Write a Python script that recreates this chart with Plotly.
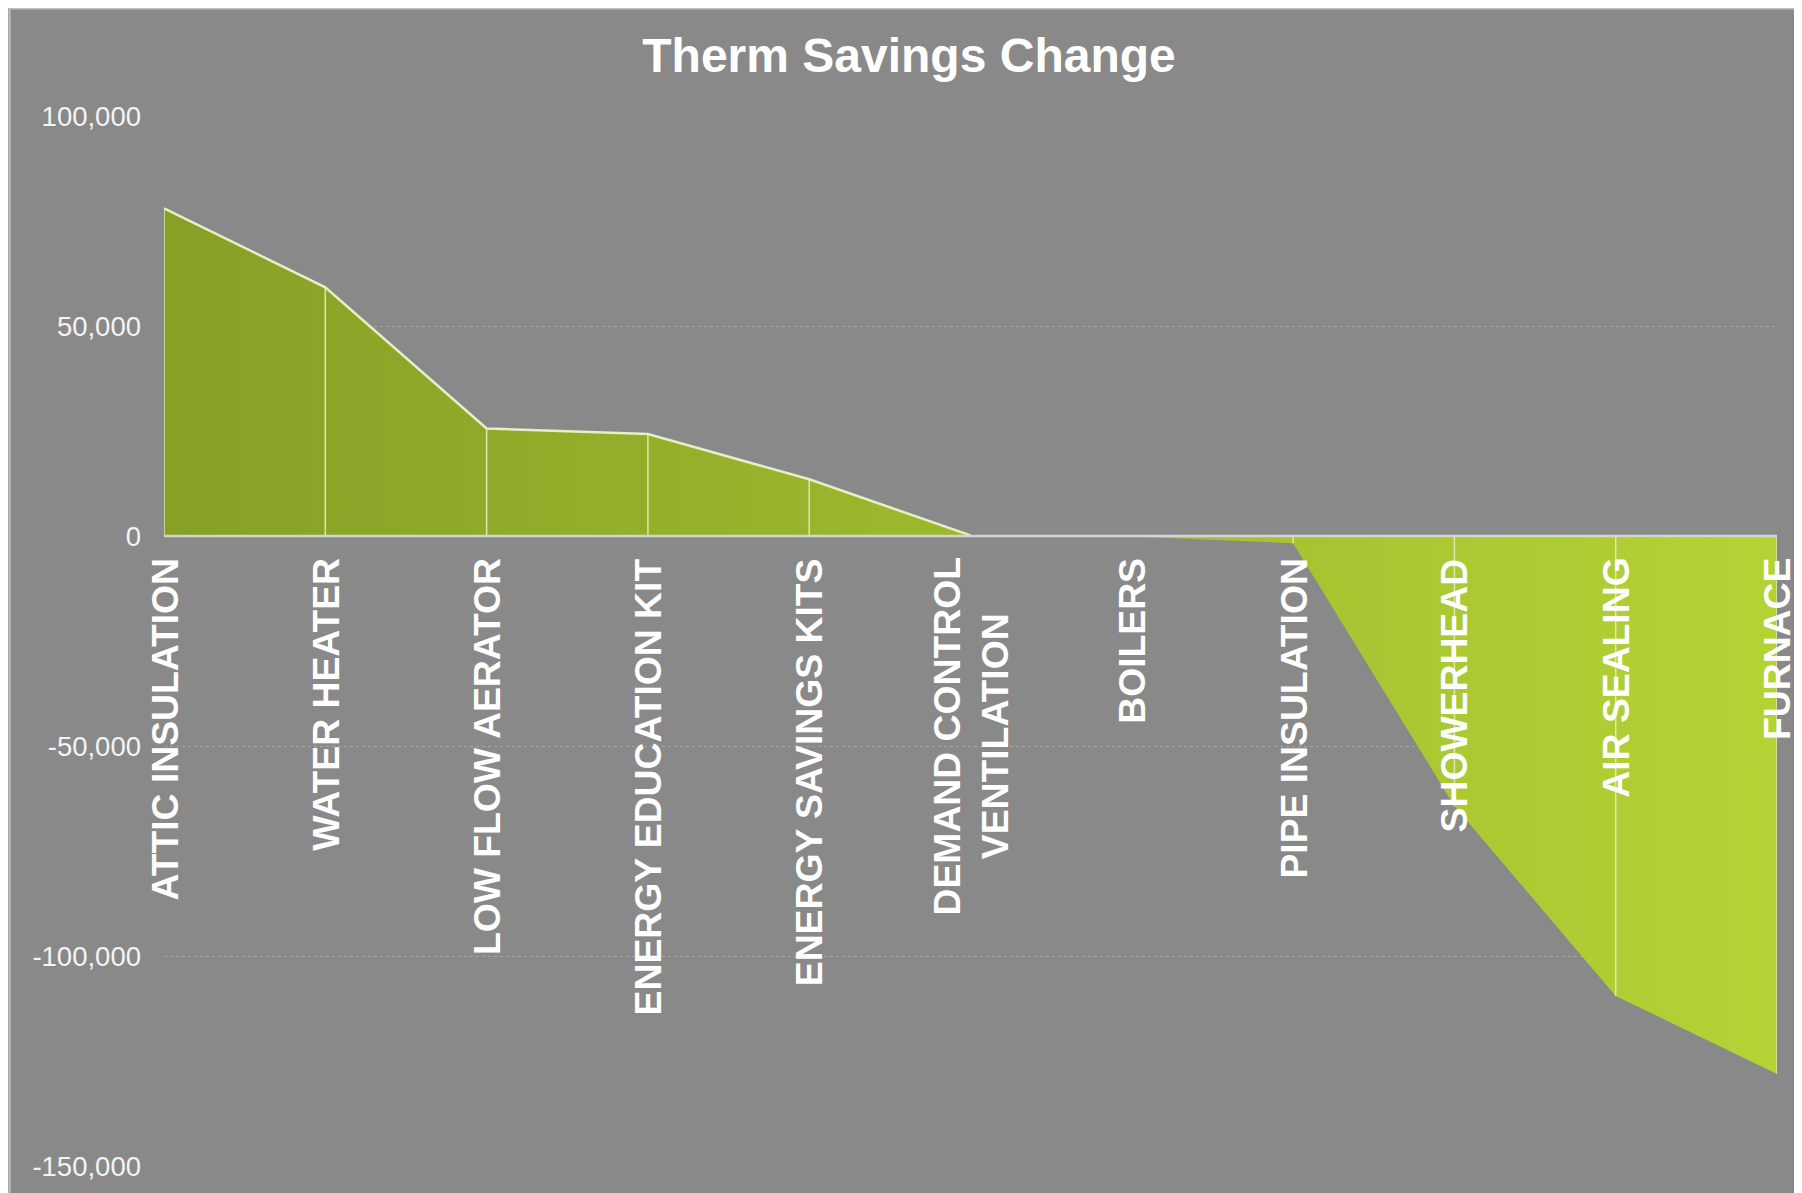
import plotly.graph_objects as go

# ---- data ----
categories = ["ATTIC INSULATION", "WATER HEATER", "LOW FLOW AERATOR",
              "ENERGY EDUCATION KIT", "ENERGY SAVINGS KITS",
              "DEMAND CONTROL VENTILATION", "BOILERS", "PIPE INSULATION",
              "SHOWERHEAD", "AIR SEALING", "FURNACE"]
category_labels = ["ATTIC INSULATION", "WATER HEATER", "LOW FLOW AERATOR",
                   "ENERGY EDUCATION KIT", "ENERGY SAVINGS KITS",
                   "DEMAND CONTROL<br>VENTILATION", "BOILERS", "PIPE INSULATION",
                   "SHOWERHEAD", "AIR SEALING", "FURNACE"]
therm_change = [78000, 59200, 25600, 24300, 13500, 150, -100, -1700,
                -64300, -109500, -128100]
y_tick_values = [100000, 50000, 0, -50000, -100000, -150000]
y_tick_labels = ["100,000", "50,000", "0", "-50,000", "-100,000", "-150,000"]
title_text = "Therm Savings Change"

# ---- styles ----
W, H = 1794, 1185          # page body adds an 8px margin top/left
ML, MR, MT, MB = 156, 25, 108, 27
BG = "#898989"
FONT = "Liberation Sans, Arial, sans-serif"

fig = go.Figure()

# gradient area
fig.add_trace(go.Scatter(
    x=categories, y=therm_change, mode="lines",
    line=dict(width=0),
    fill="tozeroy",
    fillgradient=dict(type="horizontal",
                      colorscale=[[0, "#86a026"], [1, "#b3d335"]]),
    hoverinfo="skip", showlegend=False,
))

# drop lines from each point to zero
dx, dy = [], []
for c, v in zip(categories, therm_change):
    dx += [c, c, None]
    dy += [0, v, None]
fig.add_trace(go.Scatter(
    x=dx, y=dy, mode="lines",
    line=dict(color="#dde6b4", width=1.5),
    hoverinfo="skip", showlegend=False,
))

# light edge line along the positive part
edge = [v if v >= 0 else None for v in therm_change]
fig.add_trace(go.Scatter(
    x=categories, y=edge, mode="lines",
    line=dict(color="#e8eec6", width=2.5),
    connectgaps=False,
    hoverinfo="skip", showlegend=False,
))

# category labels placed just below the zero line
for c, lab in zip(categories, category_labels):
    fig.add_annotation(
        x=c, y=0, xref="x", yref="y", text="<b>%s</b>" % lab,
        textangle=-90, showarrow=False, xanchor="center", yanchor="top",
        yshift=-20, align="center",
        font=dict(family=FONT, size=37.3, color="#ffffff"),
    )

plot_w = W - ML - MR
plot_h = H - MT - MB
# chart area with a light border on its top/left edge
fig.add_shape(
    type="rect", xref="paper", yref="paper", layer="below",
    x0=(1.5 - ML) / plot_w, x1=(W + 20 - ML) / plot_w,
    y0=1 - (H + 20 - MT) / plot_h, y1=1 + (MT - 0.5) / plot_h,
    fillcolor=BG, line=dict(color="#c2c2c2", width=2),
)
# zero line on top
fig.add_shape(
    type="line", xref="paper", yref="y", layer="above",
    x0=0, x1=1, y0=0, y1=0,
    line=dict(color="#d4d4d4", width=2.5),
)

fig.update_layout(
    width=W, height=H,
    margin=dict(l=ML, r=MR, t=MT, b=MB, pad=0),
    paper_bgcolor=BG,
    plot_bgcolor=BG,
    showlegend=False,
    title=dict(text="<b>%s</b>" % title_text, x=901 / W, xref="container",
               xanchor="center", y=1 - 47 / H, yref="container",
               yanchor="middle",
               font=dict(family=FONT, size=48, color="#ffffff")),
    xaxis=dict(type="category", categoryorder="array", categoryarray=categories,
               range=[0, len(categories) - 1], showticklabels=False,
               showgrid=False, zeroline=False, showline=False, fixedrange=True),
    yaxis=dict(range=[-150000, 100000], tickvals=y_tick_values,
               ticktext=y_tick_labels, showgrid=True, gridcolor="#a6a6a6",
               griddash="dot", gridwidth=1, zeroline=False, showline=False,
               ticks="", ticklabelstandoff=22,
               tickfont=dict(family=FONT, size=27.5, color="#f4f4f4"),
               fixedrange=True),
)

fig.write_html("out.html")
